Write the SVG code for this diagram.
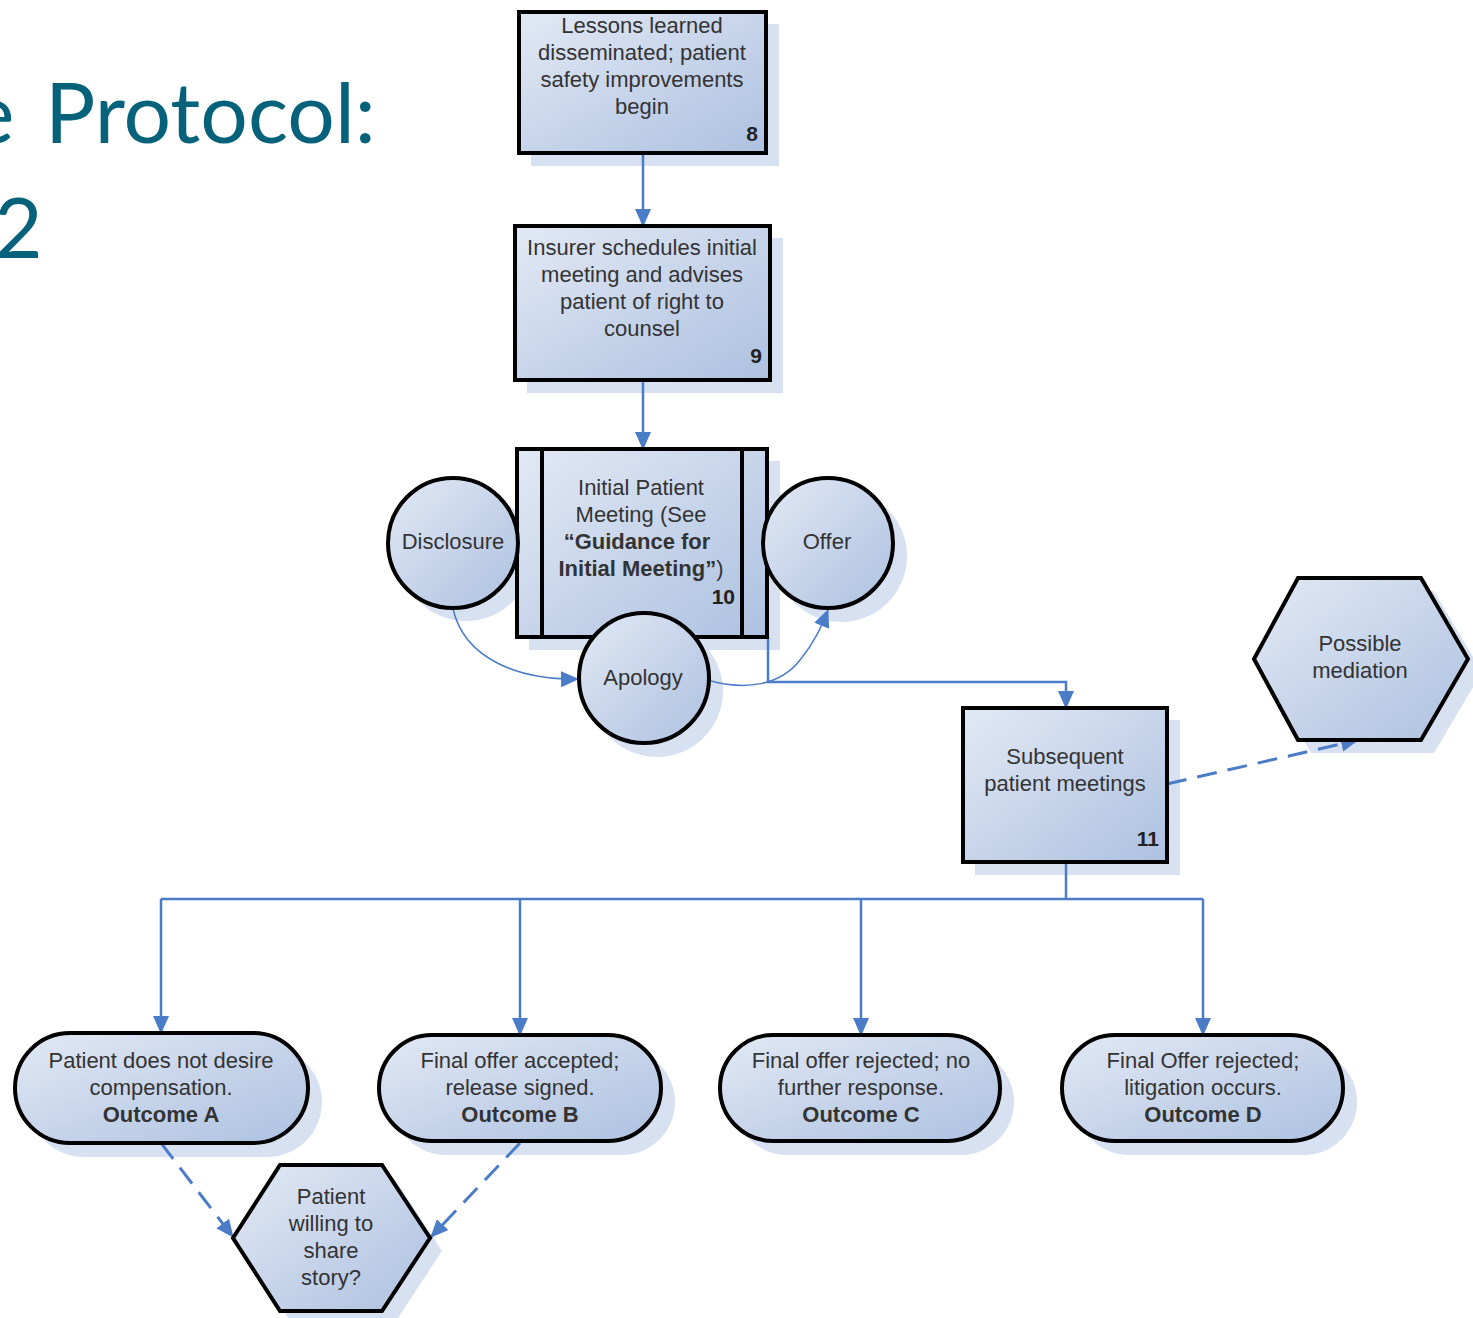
<svg xmlns="http://www.w3.org/2000/svg" width="1473" height="1318" viewBox="0 0 1473 1318">
<defs>
<linearGradient id="g" x1="0" y1="0" x2="1" y2="1">
<stop offset="0" stop-color="#e2e9f5"/>
<stop offset="1" stop-color="#adc1e0"/>
</linearGradient>
<marker id="ah" viewBox="0 0 18 16" refX="17" refY="8" markerWidth="18" markerHeight="16" markerUnits="userSpaceOnUse" orient="auto">
<path d="M0,0 L18,8 L0,16 Z" fill="#4a7cc7"/>
</marker>
<style>
.n{fill:url(#g);stroke:#000;stroke-width:4}
.sh{fill:#d7e1f1}
.t{font-family:"Liberation Sans",Arial,sans-serif;font-size:22px;fill:#333;text-anchor:middle}
.b{font-weight:bold}
.num{font-family:"Liberation Sans",Arial,sans-serif;font-size:21px;font-weight:bold;fill:#222;text-anchor:end}
.c{fill:none;stroke:#4a7cc7;stroke-width:2.5}
.cs{fill:none;stroke:#4a7cc7;stroke-width:1.5}
.d{fill:none;stroke:#4a7cc7;stroke-width:3;stroke-dasharray:20 11}
.title{font-family:"Lato","Liberation Sans",sans-serif;font-size:84px;fill:#05627a}
</style>
</defs>
<rect width="1473" height="1318" fill="#fff"/>
<text class="title" y="143"><tspan x="-30">e</tspan><tspan x="45">Protocol:</tspan></text>
<text class="title" x="-6" y="258">2</text>

<g id="shadows">
<rect class="sh" x="531" y="24" width="248" height="142"/>
<rect class="sh" x="527" y="238" width="256" height="155"/>
<rect class="sh" x="529" y="461" width="251" height="189"/>
<circle class="sh" cx="466" cy="555" r="66"/>
<circle class="sh" cx="841" cy="556" r="66"/>
<circle class="sh" cx="657" cy="691" r="66"/>
<rect class="sh" x="975" y="720" width="205" height="155"/>
<polygon class="sh" points="1266,672 1311,591 1434,591 1482,672 1434,753 1311,753"/>
<rect class="sh" x="29" y="1047" width="293" height="110" rx="55"/>
<rect class="sh" x="393" y="1049" width="282" height="106" rx="53"/>
<rect class="sh" x="734" y="1049" width="280" height="106" rx="53"/>
<rect class="sh" x="1076" y="1049" width="281" height="106" rx="53"/>
<polygon class="sh" points="245,1251 292,1178 394,1178 442,1251 394,1324 292,1324"/>
</g>

<g id="connectors">
<line class="c" x1="643" y1="153" x2="643" y2="226" marker-end="url(#ah)"/>
<line class="c" x1="643" y1="380" x2="643" y2="449" marker-end="url(#ah)"/>
<path class="cs" d="M453,609 C465,660 520,680 578,679" marker-end="url(#ah)"/>
<path class="cs" d="M711,681 C745,690 780,686 800,660 C815,642 822,625 828,610" marker-end="url(#ah)"/>
<path class="c" d="M768,637 L768,682 L1066,682 L1066,708" marker-end="url(#ah)"/>
<line class="d" x1="1167" y1="784" x2="1358" y2="740" marker-end="url(#ah)"/>
<path class="c" d="M1066,862 L1066,899"/>
<line class="c" x1="161" y1="899" x2="1203" y2="899"/>
<line class="c" x1="161" y1="899" x2="161" y2="1033" marker-end="url(#ah)"/>
<line class="c" x1="520" y1="899" x2="520" y2="1035" marker-end="url(#ah)"/>
<line class="c" x1="861" y1="899" x2="861" y2="1035" marker-end="url(#ah)"/>
<line class="c" x1="1203" y1="899" x2="1203" y2="1035" marker-end="url(#ah)"/>
<line class="d" x1="161" y1="1143" x2="233" y2="1237" marker-end="url(#ah)"/>
<line class="d" x1="520" y1="1143" x2="431" y2="1237" marker-end="url(#ah)"/>
</g>

<g id="n8">
<rect class="n" x="519" y="12" width="247" height="141"/>
<text class="t" x="642" y="33">Lessons learned</text>
<text class="t" x="642" y="60">disseminated; patient</text>
<text class="t" x="642" y="87">safety improvements</text>
<text class="t" x="642" y="114">begin</text>
<text class="num" x="758" y="141">8</text>
</g>

<g id="n9">
<rect class="n" x="515" y="226" width="255" height="154"/>
<text class="t" x="642" y="255">Insurer schedules initial</text>
<text class="t" x="642" y="282">meeting and advises</text>
<text class="t" x="642" y="309">patient of right to</text>
<text class="t" x="642" y="336">counsel</text>
<text class="num" x="762" y="363">9</text>
</g>

<g id="n10">
<rect class="n" x="517" y="449" width="250" height="188"/>
<line x1="542" y1="449" x2="542" y2="637" stroke="#000" stroke-width="4"/>
<line x1="742" y1="449" x2="742" y2="637" stroke="#000" stroke-width="4"/>
<text class="t" x="641" y="495">Initial Patient</text>
<text class="t" x="641" y="522">Meeting (See</text>
<text class="t b" x="637" y="549">“Guidance for</text>
<text class="t" x="641" y="576"><tspan class="b">Initial Meeting”</tspan>)</text>
<text class="num" x="735" y="604">10</text>
</g>

<g id="disclosure">
<circle class="n" cx="453" cy="543" r="65"/>
<text class="t" x="453" y="549">Disclosure</text>
</g>

<g id="offer">
<circle class="n" cx="828" cy="543" r="65"/>
<text class="t" x="827" y="549">Offer</text>
</g>

<g id="apology">
<circle class="n" cx="644" cy="678" r="65"/>
<text class="t" x="643" y="685">Apology</text>
</g>

<g id="n11">
<rect class="n" x="963" y="708" width="204" height="154"/>
<text class="t" x="1065" y="764">Subsequent</text>
<text class="t" x="1065" y="791">patient meetings</text>
<text class="num" x="1159" y="846">11</text>
</g>

<g id="mediation">
<polygon class="n" points="1254,659 1298,578 1421,578 1468,659 1421,740 1298,740"/>
<text class="t" x="1360" y="651">Possible</text>
<text class="t" x="1360" y="678">mediation</text>
</g>

<g id="outcomeA">
<rect class="n" x="15" y="1033" width="293" height="110" rx="55"/>
<text class="t" x="161" y="1068">Patient does not desire</text>
<text class="t" x="161" y="1095">compensation.</text>
<text class="t b" x="161" y="1122">Outcome A</text>
</g>

<g id="outcomeB">
<rect class="n" x="379" y="1035" width="282" height="106" rx="53"/>
<text class="t" x="520" y="1068">Final offer accepted;</text>
<text class="t" x="520" y="1095">release signed.</text>
<text class="t b" x="520" y="1122">Outcome B</text>
</g>

<g id="outcomeC">
<rect class="n" x="720" y="1035" width="280" height="106" rx="53"/>
<text class="t" x="861" y="1068">Final offer rejected; no</text>
<text class="t" x="861" y="1095">further response.</text>
<text class="t b" x="861" y="1122">Outcome C</text>
</g>

<g id="outcomeD">
<rect class="n" x="1062" y="1035" width="281" height="106" rx="53"/>
<text class="t" x="1203" y="1068">Final Offer rejected;</text>
<text class="t" x="1203" y="1095">litigation occurs.</text>
<text class="t b" x="1203" y="1122">Outcome D</text>
</g>

<g id="share">
<polygon class="n" points="233,1238 280,1165 382,1165 430,1238 382,1311 280,1311"/>
<text class="t" x="331" y="1204">Patient</text>
<text class="t" x="331" y="1231">willing to</text>
<text class="t" x="331" y="1258">share</text>
<text class="t" x="331" y="1285">story?</text>
</g>
</svg>
